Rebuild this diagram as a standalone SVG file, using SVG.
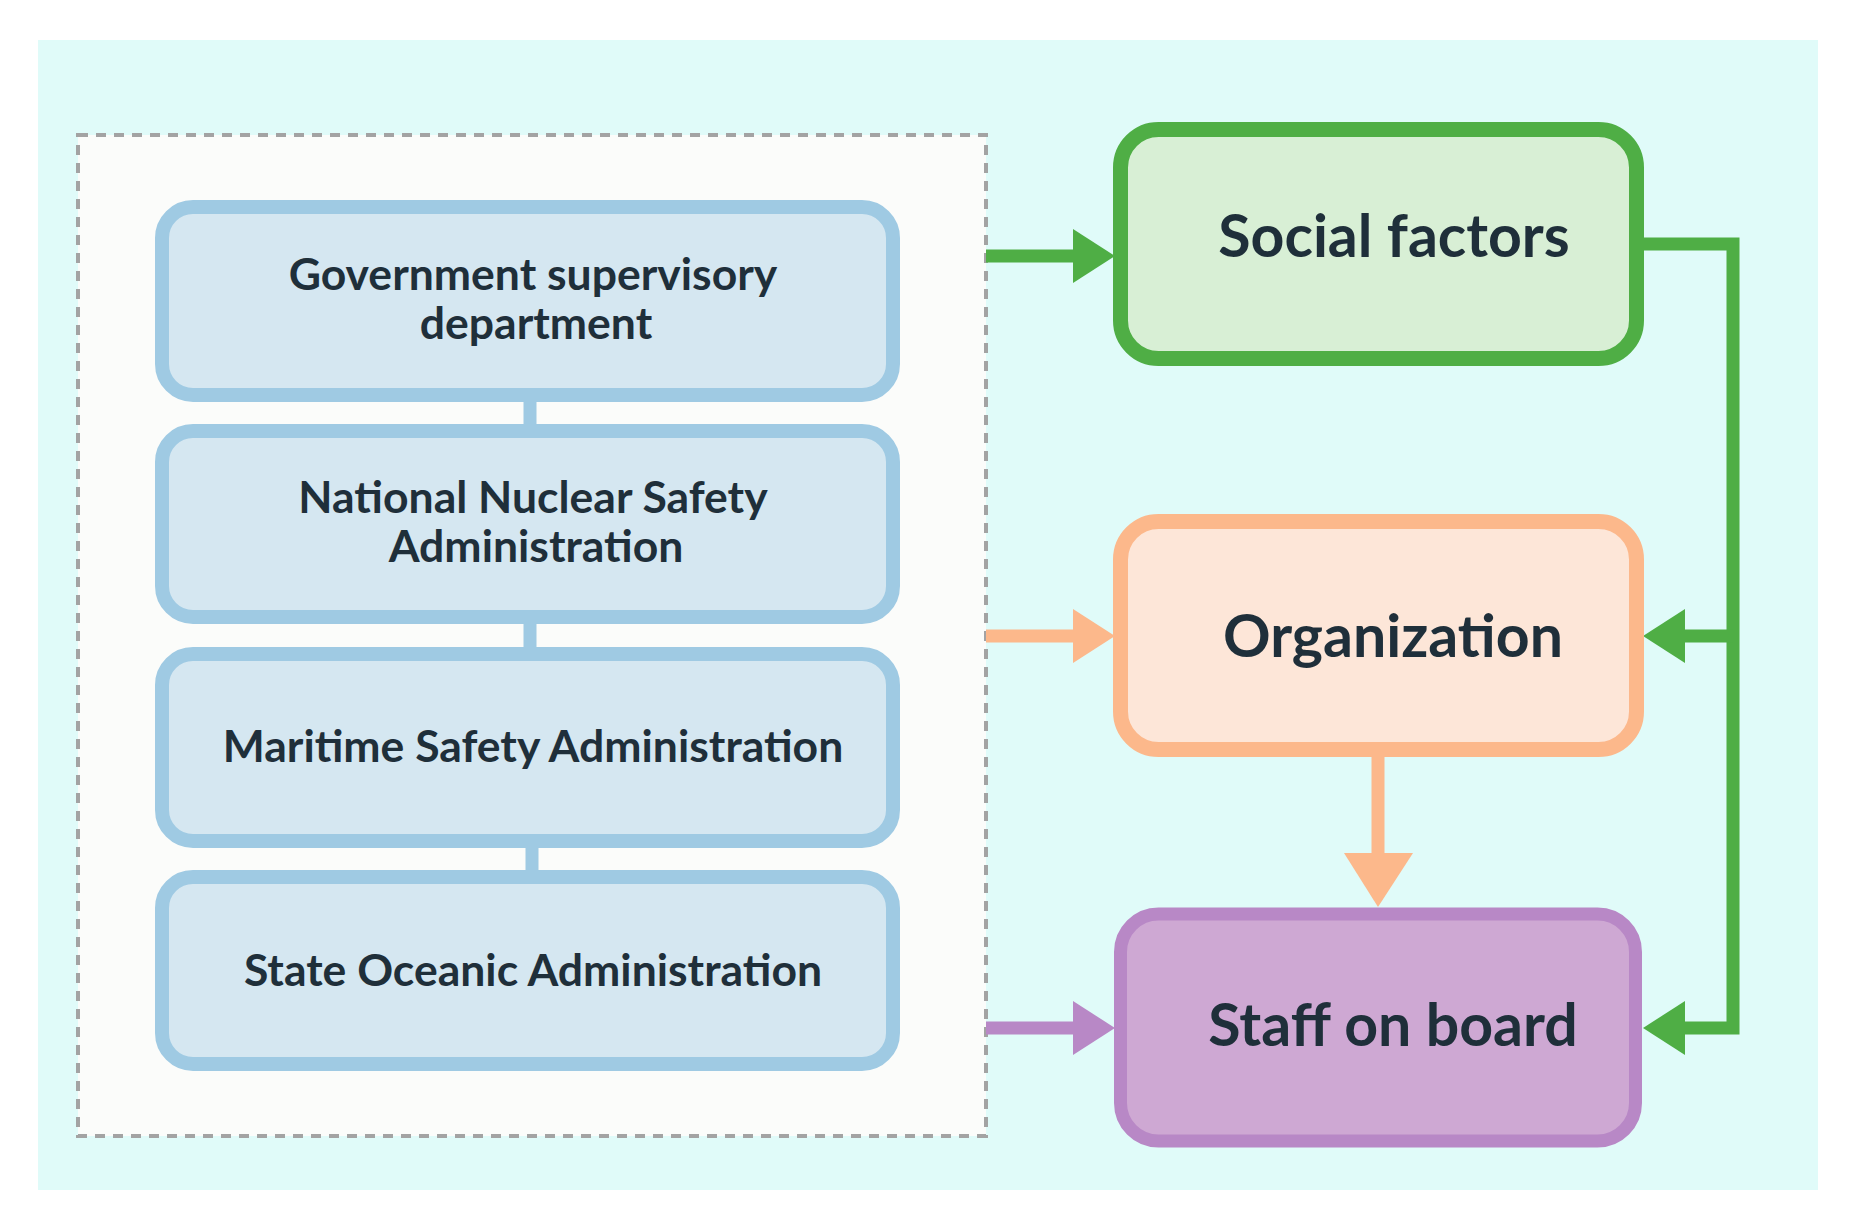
<svg xmlns="http://www.w3.org/2000/svg" width="1866" height="1231" viewBox="0 0 1866 1231">
<style>
.bluebox{fill:#d5e7f1;stroke:#9fcae3;stroke-width:14}
.lt{font-family:Lato,"Liberation Sans",sans-serif;font-weight:700;font-size:44.5px;fill:#1f2f3a;text-anchor:middle}
.rt{font-family:Lato,"Liberation Sans",sans-serif;font-weight:700;font-size:59px;fill:#1f2f3a;text-anchor:middle}
.g{stroke:#4fae45;fill:none;stroke-width:13}
.o{stroke:#fcb88b;fill:none;stroke-width:13}
.p{stroke:#b888c6;fill:none;stroke-width:13}
.gf{fill:#4fae45}
.of{fill:#fcb88b}
.pf{fill:#b888c6}
.bl{stroke:#9fcae3;stroke-width:13}
</style>
<rect x="0" y="0" width="1866" height="1231" fill="#ffffff"/>
<rect x="38" y="40" width="1780" height="1150" fill="#e0fbf9"/>
<rect id="group-box" x="78" y="135" width="908" height="1001" fill="#fbfcfa" stroke="#a3a3a3" stroke-width="4" stroke-dasharray="10 8"/>
<g id="connectors">
<line class="bl" x1="530" y1="400" x2="530" y2="426"/>
<line class="bl" x1="530" y1="622" x2="530" y2="649"/>
<line class="bl" x1="532" y1="846" x2="532" y2="872"/>
<line class="g" x1="986" y1="256" x2="1076" y2="256"/>
<polygon class="gf" points="1073,229 1115,256 1073,283"/>
<line class="o" x1="986" y1="636" x2="1076" y2="636"/>
<polygon class="of" points="1073,609 1115,636 1073,663"/>
<line class="p" x1="986" y1="1028" x2="1076" y2="1028"/>
<polygon class="pf" points="1073,1001 1115,1028 1073,1055"/>
<path class="g" d="M1640 244 H1733 V1028 H1682"/>
<line class="g" x1="1733" y1="636" x2="1682" y2="636"/>
<polygon class="gf" points="1685,609 1643,636 1685,663"/>
<polygon class="gf" points="1685,1001 1643,1028 1685,1055"/>
<line class="o" x1="1378" y1="755" x2="1378" y2="856"/>
<polygon class="of" points="1344,853 1413,853 1378,907"/>
</g>
<g id="node-gov">
<rect class="bluebox" x="162" y="207" width="731" height="188" rx="31"/>
<text class="lt" x="533" y="290">Government supervisory</text>
<text class="lt" x="536" y="339">department</text>
</g>
<g id="node-nnsa">
<rect class="bluebox" x="162" y="431" width="731" height="186" rx="31"/>
<text class="lt" x="533" y="513">National Nuclear Safety</text>
<text class="lt" x="536" y="562">Administration</text>
</g>
<g id="node-msa">
<rect class="bluebox" x="162" y="654" width="731" height="187" rx="31"/>
<text class="lt" x="533" y="762">Maritime Safety Administration</text>
</g>
<g id="node-soa">
<rect class="bluebox" x="162" y="877" width="731" height="187" rx="31"/>
<text class="lt" x="533" y="986">State Oceanic Administration</text>
</g>
<g id="node-social">
<rect x="1120.5" y="129.5" width="516" height="229" rx="38" fill="#d8efd5" stroke="#4fae45" stroke-width="15"/>
<text class="rt" x="1394" y="257">Social factors</text>
</g>
<g id="node-org">
<rect x="1120.5" y="521.5" width="516" height="228" rx="38" fill="#fde6d8" stroke="#fcb88b" stroke-width="15"/>
<text class="rt" x="1393" y="657">Organization</text>
</g>
<g id="node-staff">
<rect x="1120.5" y="914" width="515" height="227" rx="38" fill="#cea8d3" stroke="#b888c6" stroke-width="13"/>
<text class="rt" x="1393" y="1046">Staff on board</text>
</g>
</svg>
